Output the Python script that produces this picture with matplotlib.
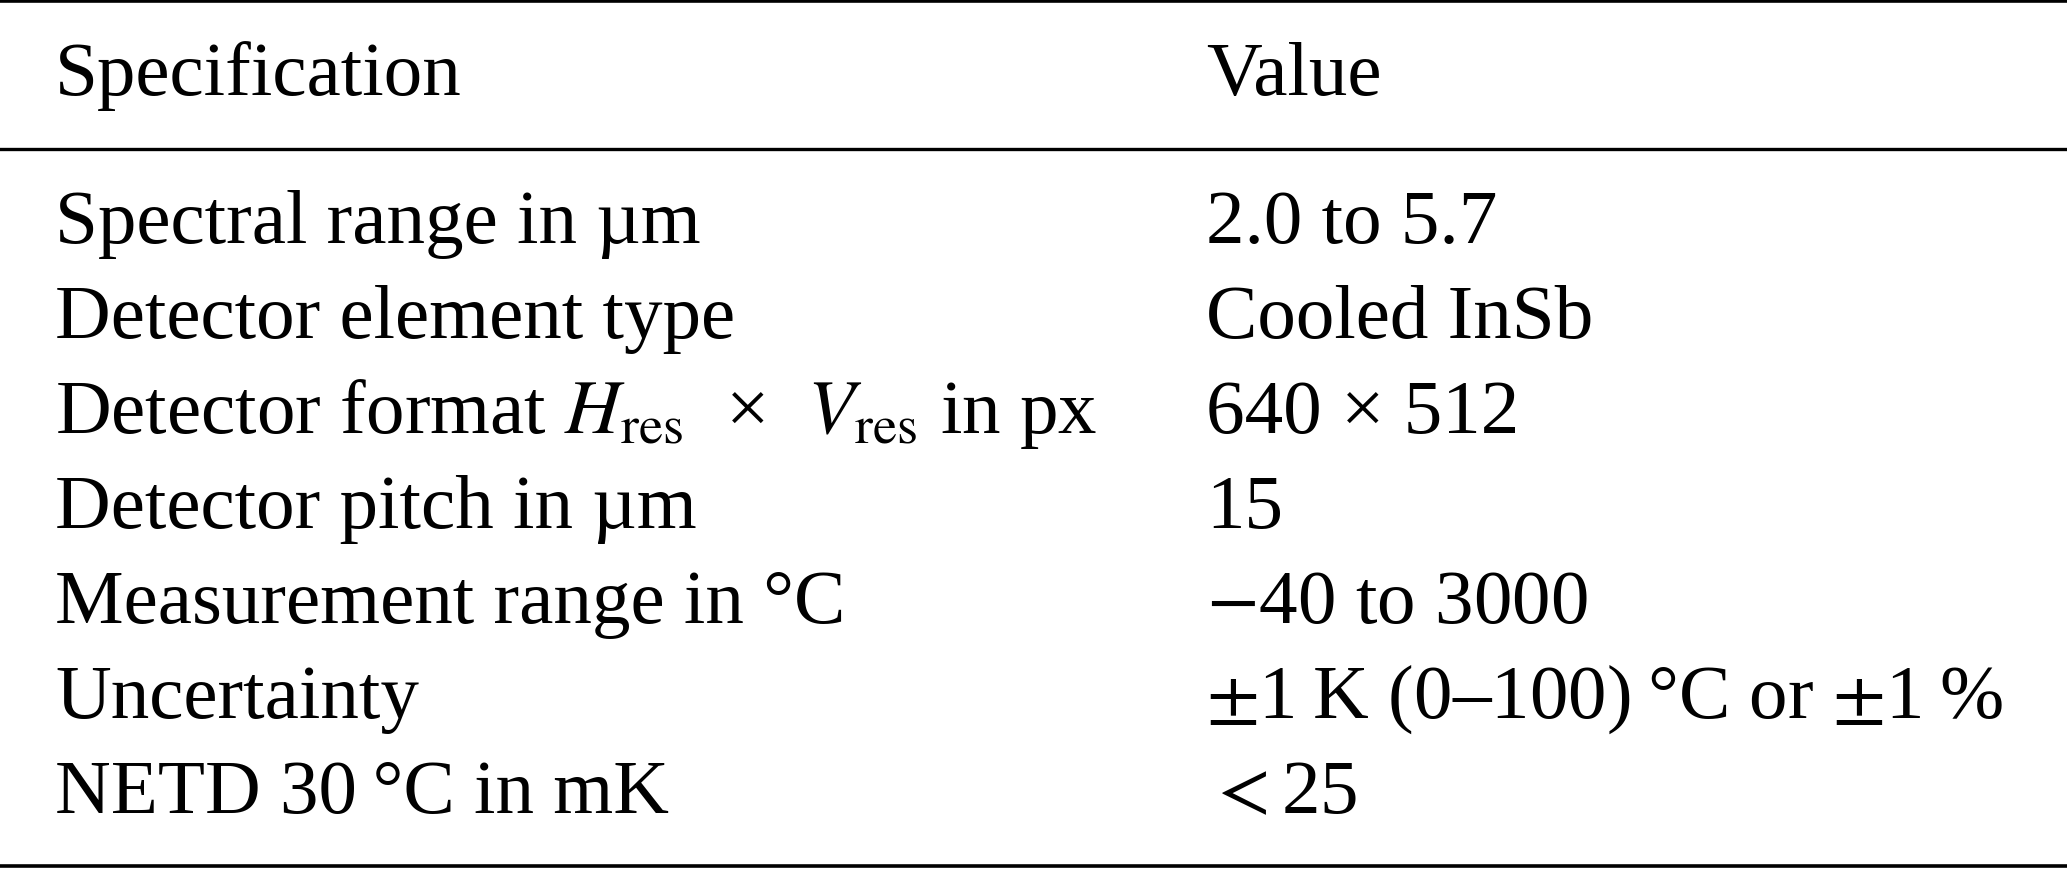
import matplotlib.pyplot as plt

plt.rcParams['font.family'] = ['Liberation Serif', 'DejaVu Serif']
plt.rcParams['mathtext.fontset'] = 'stix'

# table content
header = ["Specification", "Value"]
specs = [
    "Spectral range in µm",
    "Detector element type",
    r"Detector format $H_{\mathrm{res}}$  ×  $V_{\mathrm{res}}$ in px",
    "Detector pitch in µm",
    "Measurement range in °C",
    "Uncertainty",
    "NETD 30\u2009°C in mK",
]
values = [
    "2.0 to 5.7",
    "Cooled InSb",
    "640 × 512",
    "15",
    r"$-$40 to 3000",
    "$\\pm$1\u2009K (0–100)\u2009°C or $\\pm$1\u2009%",
    "$<$25",
]

W, H = 2067, 870
fig = plt.figure(figsize=(W / 100, H / 100), dpi=100)
ax = fig.add_axes([0, 0, 1, 1])
ax.set_xlim(0, W)
ax.set_ylim(H, 0)
ax.axis('off')

fs = 55.5
col_x = [55, 1206]
header_y = 95
row0_y = 243
row_step = 95

# rules (booktabs style)
ax.axhline(2, color='black', lw=2.6)
ax.axhline(149.5, color='black', lw=2.4)
ax.axhline(867, color='black', lw=2.6)

for x, txt in zip(col_x, header):
    ax.text(x, header_y, txt, fontsize=fs, va='baseline', ha='left')

for i, (s, v) in enumerate(zip(specs, values)):
    y = row0_y + i * row_step
    ax.text(col_x[0], y, s, fontsize=fs, va='baseline', ha='left')
    ax.text(col_x[1], y, v, fontsize=fs, va='baseline', ha='left')

fig.savefig('out.png', dpi=100, facecolor='white')
